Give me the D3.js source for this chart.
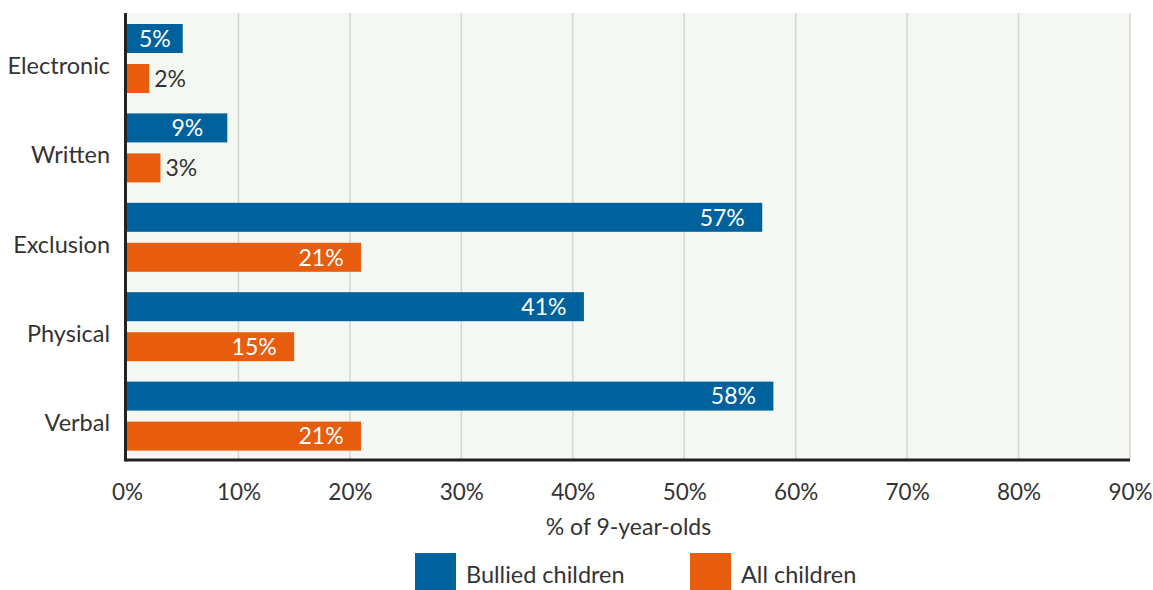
<!DOCTYPE html>
<html><head><meta charset="utf-8">
<script src="https://cdn.jsdelivr.net/npm/d3@7"></script>
<style>body{margin:0;background:#fff;} text{font-family:"Source Sans Pro",Lato,sans-serif;}</style>
</head><body>
<svg id="chart" width="1153" height="590"></svg>
<script>
const categories = ["Electronic","Written","Exclusion","Physical","Verbal"];
const seriesNames = ["Bullied children","All children"];
const bulliedValues = [5,9,57,41,58];
const allValues = [2,3,21,15,21];
const xTicks = [0,10,20,30,40,50,60,70,80,90];
const colors = ["#00629c","#e85c0d"];

const svg = d3.select("#chart");
const pLeft = 127, pRight = 1130, pTop = 13, pBottom = 460;
const x = d3.scaleLinear().domain([0,90]).range([pLeft,pRight]);
const y = d3.scaleBand().domain(categories).range([pTop,pBottom]);
const yInner = d3.scaleBand().domain(seriesNames).range([11,80]).paddingInner(11/40);
const textColor = "#333";

svg.append("rect").attr("x",pLeft).attr("y",pTop).attr("width",pRight-pLeft).attr("height",pBottom-pTop).attr("fill","#f5f8f2");
svg.append("g").selectAll("line").data(xTicks.slice(1)).join("line")
  .attr("x1",d=>x(d)).attr("x2",d=>x(d)).attr("y1",pTop).attr("y2",pBottom)
  .attr("stroke","#d4d6d2").attr("stroke-width",1.5);

const data = [];
categories.forEach((c,i)=>{
  data.push({cat:c, s:seriesNames[0], v:bulliedValues[i], color:colors[0]});
  data.push({cat:c, s:seriesNames[1], v:allValues[i], color:colors[1]});
});
const g = svg.append("g");
g.selectAll("rect").data(data).join("rect")
  .attr("x",x(0)).attr("y",d=>y(d.cat)+yInner(d.s))
  .attr("width",d=>x(d.v)-x(0)).attr("height",yInner.bandwidth()).attr("fill",d=>d.color);
g.selectAll("text").data(data).join("text")
  .attr("x",d=>{
    const w = x(d.v)-x(0);
    if (w < 40) return x(d.v)+5;
    return Math.max(x(d.v)-40, x(0)+w/2);
  })
  .attr("y",d=>y(d.cat)+yInner(d.s)+yInner.bandwidth()/2)
  .attr("dy","0.36em")
  .attr("text-anchor",d=> (x(d.v)-x(0))<40 ? "start":"middle")
  .attr("fill",d=> (x(d.v)-x(0))<40 ? textColor : "#fff")
  .attr("font-size",23)
  .text(d=>d.v+"%");

// axes
const xAxis = svg.append("g").attr("transform",`translate(0,${pBottom})`)
  .call(d3.axisBottom(x).tickValues(xTicks).tickFormat(d=>d+"%").tickSize(0).tickPadding(24));
xAxis.select(".domain").remove();
xAxis.selectAll("text").attr("font-size",22.5).attr("fill",textColor).attr("font-family","'Source Sans Pro',Lato,sans-serif");
svg.append("line").attr("x1",pLeft-1.5).attr("x2",pRight).attr("y1",pBottom).attr("y2",pBottom).attr("stroke","#222").attr("stroke-width",3);
svg.append("line").attr("x1",pLeft-1.5).attr("x2",pLeft-1.5).attr("y1",pTop).attr("y2",pBottom+1.5).attr("stroke","#222").attr("stroke-width",3);

svg.append("g").selectAll("text").data(categories).join("text")
  .attr("x",110).attr("y",d=>y(d)+y.bandwidth()/2+16)
  .attr("text-anchor","end").attr("font-size",23.5).attr("fill",textColor).text(d=>d);

svg.append("text").attr("x",(pLeft+pRight)/2).attr("y",535).attr("text-anchor","middle")
  .attr("font-size",23).attr("fill",textColor).text("% of 9-year-olds");

const legX = [415,690];
const leg = svg.append("g").selectAll("g").data(seriesNames).join("g")
  .attr("transform",(d,i)=>`translate(${legX[i]},553)`);
leg.append("rect").attr("width",41).attr("height",41).attr("fill",(d,i)=>colors[i]);
leg.append("text").attr("x",51).attr("y",30).attr("font-size",23.5).attr("fill",textColor).text(d=>d);
</script>
</body></html>
